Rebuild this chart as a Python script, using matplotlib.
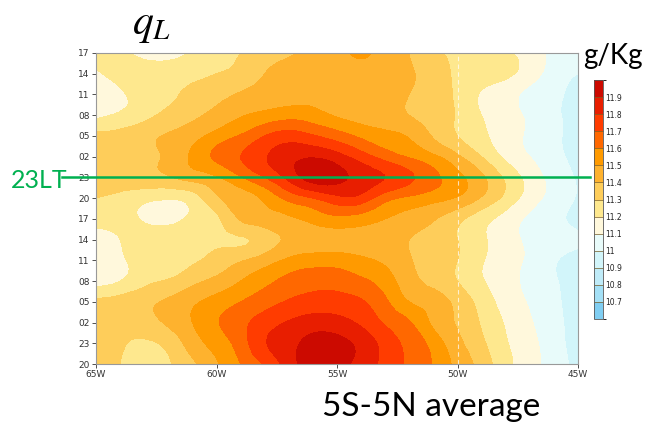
import matplotlib
matplotlib.use("Agg")
import matplotlib.pyplot as plt
import matplotlib.tri as mtri
import numpy as np
from matplotlib.colors import ListedColormap, BoundaryNorm

# longitude (deg E) and hours since 20LT, every 3h
lons = [-65, -64, -63, -62, -61, -60, -59, -58, -57, -56, -55,
        -54, -53, -52, -51, -50, -49, -48, -47, -46, -45]
hours = [0, 3, 6, 9, 12, 15, 18, 21, 24, 27, 30, 33, 36, 39, 42, 45]
hour_labels = ["20", "23", "02", "05", "08", "11", "14", "17",
               "20", "23", "02", "05", "08", "11", "14", "17"]
lon_ticks = [-65, -60, -55, -50, -45]
lon_labels = ["65W", "60W", "55W", "50W", "45W"]

# q_L (g/Kg), one row per time step from bottom (20LT) to top (17LT)
q_t00 = [11.33, 11.30, 11.26, 11.29, 11.38, 11.49, 11.60, 11.71, 11.85, 11.95, 11.94,
         11.86, 11.77, 11.68, 11.59, 11.47, 11.36, 11.23, 11.14, 11.05, 10.97]
q_t03 = [11.35, 11.31, 11.29, 11.33, 11.45, 11.54, 11.65, 11.79, 11.87, 11.93, 11.93,
         11.87, 11.76, 11.67, 11.56, 11.43, 11.32, 11.21, 11.13, 11.04, 10.96]
q_t06 = [11.34, 11.34, 11.35, 11.42, 11.50, 11.59, 11.67, 11.75, 11.81, 11.85, 11.84,
         11.78, 11.69, 11.61, 11.48, 11.39, 11.29, 11.19, 11.11, 11.03, 10.96]
q_t09 = [11.32, 11.34, 11.37, 11.42, 11.48, 11.54, 11.60, 11.66, 11.71, 11.74, 11.74,
         11.71, 11.62, 11.50, 11.45, 11.37, 11.26, 11.16, 11.09, 11.02, 10.96]
q_t12 = [11.16, 11.20, 11.27, 11.31, 11.37, 11.43, 11.50, 11.57, 11.63, 11.66, 11.66,
         11.62, 11.55, 11.44, 11.37, 11.30, 11.21, 11.14, 11.07, 11.01, 10.95]
q_t15 = [11.12, 11.18, 11.25, 11.27, 11.29, 11.33, 11.39, 11.45, 11.52, 11.55, 11.55,
         11.52, 11.48, 11.41, 11.35, 11.30, 11.21, 11.14, 11.08, 11.01, 10.97]
q_t18 = [11.15, 11.20, 11.25, 11.27, 11.28, 11.28, 11.29, 11.35, 11.42, 11.45, 11.46,
         11.46, 11.44, 11.40, 11.36, 11.30, 11.22, 11.14, 11.08, 11.03, 11.01]
q_t21 = [11.24, 11.23, 11.19, 11.17, 11.22, 11.28, 11.41, 11.45, 11.48, 11.53, 11.57,
         11.55, 11.50, 11.46, 11.41, 11.33, 11.24, 11.16, 11.08, 11.02, 10.98]
q_t24 = [11.30, 11.27, 11.23, 11.21, 11.25, 11.38, 11.45, 11.52, 11.63, 11.70, 11.77,
         11.76, 11.64, 11.58, 11.54, 11.49, 11.39, 11.27, 11.15, 11.06, 10.99]
q_t27 = [11.36, 11.36, 11.37, 11.39, 11.44, 11.49, 11.59, 11.70, 11.83, 11.95, 11.93,
         11.87, 11.80, 11.72, 11.63, 11.53, 11.42, 11.28, 11.16, 11.06, 10.99]
q_t30 = [11.35, 11.36, 11.38, 11.42, 11.52, 11.62, 11.70, 11.79, 11.86, 11.89, 11.84,
         11.75, 11.66, 11.59, 11.52, 11.42, 11.30, 11.18, 11.10, 11.03, 10.97]
q_t33 = [11.32, 11.33, 11.37, 11.41, 11.46, 11.54, 11.61, 11.70, 11.75, 11.71, 11.65,
         11.58, 11.53, 11.49, 11.39, 11.30, 11.22, 11.15, 11.08, 11.02, 10.96]
q_t36 = [11.17, 11.22, 11.27, 11.33, 11.38, 11.43, 11.49, 11.53, 11.56, 11.54, 11.49,
         11.46, 11.44, 11.40, 11.35, 11.29, 11.20, 11.14, 11.08, 11.02, 10.95]
q_t39 = [11.10, 11.18, 11.25, 11.28, 11.33, 11.37, 11.41, 11.44, 11.46, 11.47, 11.46,
         11.46, 11.45, 11.40, 11.35, 11.28, 11.19, 11.14, 11.07, 11.02, 10.96]
q_t42 = [11.18, 11.24, 11.25, 11.26, 11.27, 11.30, 11.33, 11.40, 11.44, 11.46, 11.47,
         11.48, 11.46, 11.41, 11.36, 11.28, 11.25, 11.22, 11.15, 11.05, 11.00]
q_t45 = [11.25, 11.22, 11.17, 11.15, 11.22, 11.27, 11.30, 11.35, 11.38, 11.45, 11.47,
         11.52, 11.45, 11.40, 11.33, 11.27, 11.24, 11.21, 11.16, 11.07, 11.04]

levels = [10.6, 10.7, 10.8, 10.9, 11.0, 11.1, 11.2, 11.3,
          11.4, 11.5, 11.6, 11.7, 11.8, 11.9, 12.0]
level_colors = ["#80cef2", "#a4e0f6", "#bfebf8", "#d2f5fa", "#e8fbfa",
                "#fff8dc", "#fee88e", "#fecd5a", "#feb22e", "#ff9a00",
                "#ff6800", "#ff3c00", "#e81e00", "#cc0a00"]

GREEN = "#00b050"

q = np.array([q_t00, q_t03, q_t06, q_t09, q_t12, q_t15, q_t18, q_t21,
              q_t24, q_t27, q_t30, q_t33, q_t36, q_t39, q_t42, q_t45])

cmap = ListedColormap(level_colors)
norm = BoundaryNorm(levels, cmap.N)

plt.rcParams["mathtext.fontset"] = "stix"
fig = plt.figure(figsize=(6.49, 4.24), dpi=100)
ax = fig.add_axes([96 / 649, 1 - 364 / 424, 482 / 649, 311 / 424])

# smooth filled contours on a refined triangulation of the grid
lon2d, hour2d = np.meshgrid(lons, hours)
tri = mtri.Triangulation(lon2d.ravel(), hour2d.ravel() / 3.0)
refiner = mtri.UniformTriRefiner(tri)
tri_f, q_f = refiner.refine_field(q.ravel(), subdiv=3)
tri_f.y = tri_f.y * 3.0
cf = ax.tricontourf(tri_f, np.clip(q_f, 10.61, 11.99), levels=levels,
                    cmap=cmap, norm=norm)
ax.axvline(-50, color="white", lw=0.8, ls=(0, (4, 3)), alpha=0.7)

ax.set_xlim(-65, -45)
ax.set_ylim(0, 45)
ax.set_xticks(lon_ticks)
ax.set_xticklabels(lon_labels)
ax.set_yticks(hours)
ax.set_yticklabels(hour_labels)
ax.tick_params(labelsize=6.5, colors="#333333", length=3, width=0.6,
               pad=1.5)
ax.tick_params(axis="x", pad=1)
for s in ax.spines.values():
    s.set_color("#999999")
    s.set_linewidth(0.8)

# 23LT marker line, crossing the axes on both sides
ax.plot([-0.07, 1.025], [27, 27], color=GREEN, lw=1.8,
        transform=ax.get_yaxis_transform(), clip_on=False, zorder=5)
fig.text(11 / 649, 1 - 188 / 424, "23LT", color=GREEN, fontsize=18,
         family="Lato", ha="left", va="baseline")

# colour bar
cax = fig.add_axes([594 / 649, 1 - 319 / 424, 9 / 649, 239 / 424])
cb = fig.colorbar(cf, cax=cax, ticks=levels[1:-1], drawedges=True)
cb.ax.set_yticklabels([f"{v:g}" for v in levels[1:-1]])
cb.ax.tick_params(labelsize=5.5, length=0, pad=1.5, colors="#222222")
cb.outline.set_edgecolor("#555555")
cb.outline.set_linewidth(0.6)
cb.dividers.set_color("#7a5a20")
cb.dividers.set_linewidth(0.5)

fig.text(132 / 649, 1 - 34 / 424, r"$q_L$", fontsize=30,
         ha="left", va="baseline")
fig.text(583 / 649, 1 - 64 / 424, "g/Kg", fontsize=20, family="Lato",
         ha="left", va="baseline")
fig.text(322 / 649, 1 - 416 / 424, "5S-5N average", fontsize=24,
         family="Lato", ha="left", va="baseline")

fig.savefig("out.png", dpi=100)
